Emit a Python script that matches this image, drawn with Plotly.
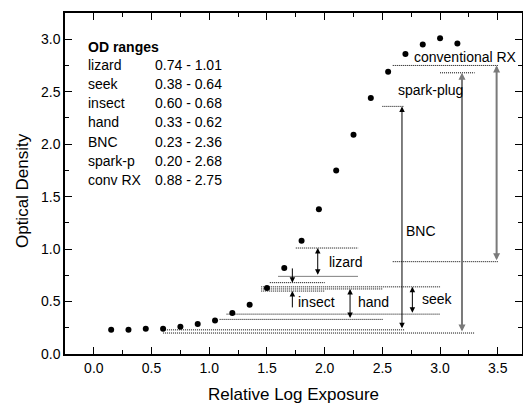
import plotly.graph_objects as go

# ---- data ----
exposure = [0.15, 0.30, 0.45, 0.60, 0.75, 0.90, 1.05, 1.20, 1.35, 1.50, 1.65,
            1.80, 1.95, 2.10, 2.25, 2.40, 2.55, 2.70, 2.85, 3.00, 3.15]
density = [0.23, 0.23, 0.24, 0.24, 0.26, 0.285, 0.32, 0.39, 0.47, 0.63, 0.82,
           1.08, 1.38, 1.75, 2.09, 2.44, 2.69, 2.86, 2.95, 3.01, 2.96]

range_names = ["lizard", "seek", "insect", "hand", "BNC", "spark-p", "conv RX"]
range_low = [0.74, 0.38, 0.60, 0.33, 0.23, 0.20, 0.88]
range_high = [1.01, 0.64, 0.68, 0.62, 2.36, 2.68, 2.75]
range_texts = ["0.74 - 1.01", "0.38 - 0.64", "0.60 - 0.68", "0.33 - 0.62",
               "0.23 - 2.36", "0.20 - 2.68", "0.88 - 2.75"]

x_ticks = [0.0, 0.5, 1.0, 1.5, 2.0, 2.5, 3.0, 3.5]
y_ticks = [0.0, 0.5, 1.0, 1.5, 2.0, 2.5, 3.0]

FONT = "Liberation Sans, Arial, Helvetica, sans-serif"
FS = 14

fig = go.Figure()
fig.add_trace(go.Scatter(x=exposure, y=density, mode="markers",
                         marker=dict(color="black", size=6),
                         showlegend=False, hoverinfo="skip"))

shapes = []
annotations = []

def hline(y, x0, x1):
    shapes.append(dict(type="line", xref="x", yref="y", x0=x0, x1=x1, y0=y, y1=y,
                       line=dict(color="black", width=1, dash="1px,1px")))

def arrow(x, y_head, y_tail, both=True, color="black", width=1, size=1.1):
    annotations.append(dict(x=x, y=y_head, ax=x, ay=y_tail, xref="x", yref="y",
                            axref="x", ayref="y", text="", showarrow=True,
                            arrowhead=2, arrowsize=size, arrowwidth=width,
                            arrowcolor=color, arrowside="end+start" if both else "end",
                            standoff=0, startstandoff=0))

def label(text, x, y):
    annotations.append(dict(x=x, y=y, xref="x", yref="y", text=text, showarrow=False,
                            xanchor="left", yanchor="middle",
                            font=dict(family=FONT, size=FS, color="black")))

idx = {n: i for i, n in enumerate(range_names)}
# horizontal dotted extents (positions)
extents = {
    "lizard": ((1.60, 2.29), (1.75, 2.29)),
    "seek": ((1.15, 3.00), (1.45, 3.00)),
    "insect": ((1.45, 2.00), (1.525, 2.00)),
    "hand": ((1.09, 2.51), (1.45, 2.50)),
    "BNC": ((0.60, 2.69), (2.50, 2.69)),
    "spark-p": ((0.60, 3.30), (3.00, 3.30)),
    "conv RX": ((2.59, 3.50), (2.59, 3.50)),
}
for n, ((lx0, lx1), (hx0, hx1)) in extents.items():
    i = idx[n]
    hline(range_low[i], lx0, lx1)
    hline(range_high[i], hx0, hx1)

i = idx["lizard"]; arrow(1.94, range_high[i], range_low[i])
i = idx["seek"]; arrow(2.76, range_high[i], range_low[i])
i = idx["hand"]; arrow(2.22, range_high[i], range_low[i])
i = idx["BNC"]; arrow(2.67, range_high[i], range_low[i])
i = idx["spark-p"]; arrow(3.19, range_high[i], range_low[i], color="#7a7a7a", width=2, size=0.7)
i = idx["conv RX"]; arrow(3.49, range_high[i], range_low[i], color="#7a7a7a", width=2, size=0.7)
i = idx["insect"]
arrow(1.72, range_high[i], 0.83, both=False)
arrow(1.72, range_low[i], 0.43, both=False)

label("lizard", 2.02, 0.88)
label("insect", 1.75, 0.50)
label("hand", 2.27, 0.50)
label("seek", 2.83, 0.52)
label("BNC", 2.685, 1.17)
label("spark-plug", 2.62, 2.52)
label("conventional RX", 2.76, 2.83)

# OD ranges table
annotations.append(dict(x=-0.069, y=2.925, xref="x", yref="y", text="<b>OD ranges</b>",
                        showarrow=False, xanchor="left", yanchor="middle",
                        font=dict(family=FONT, size=FS, color="black")))
for k, (n, t) in enumerate(zip(range_names, range_texts)):
    yy = 2.755 - k * 0.1825
    annotations.append(dict(x=-0.069, y=yy, xref="x", yref="y", text=n,
                            showarrow=False, xanchor="left", yanchor="middle",
                            font=dict(family=FONT, size=FS, color="black")))
    annotations.append(dict(x=0.509, y=yy, xref="x", yref="y", text=t,
                            showarrow=False, xanchor="left", yanchor="middle",
                            font=dict(family=FONT, size=FS, color="black")))

# axis titles
annotations.append(dict(x=0.5, y=-0.118, xref="paper", yref="paper",
                        text="Relative Log Exposure", showarrow=False,
                        xanchor="center", yanchor="middle",
                        font=dict(family=FONT, size=17, color="black")))
annotations.append(dict(x=-0.094, y=0.478, xref="paper", yref="paper",
                        text="Optical Density", showarrow=False, textangle=-90,
                        xanchor="center", yanchor="middle",
                        font=dict(family=FONT, size=17, color="black")))

axis_common = dict(showline=True, linecolor="black", linewidth=1.5, mirror="ticks",
                   ticks="inside", ticklen=7, tickwidth=1.2, tickcolor="black",
                   showgrid=False, zeroline=False, tickformat=".1f", automargin=False,
                   tickfont=dict(family=FONT, size=FS, color="black"),
                   minor=dict(ticks="inside", ticklen=4, tickwidth=1.2, tickcolor="black",
                              dtick=0.25, showgrid=False))

fig.update_xaxes(range=[-0.25, 3.71], tickvals=x_ticks, **axis_common)
fig.update_yaxes(range=[0, 3.25], tickvals=y_ticks, **axis_common)

fig.update_layout(width=523, height=405, autosize=False,
                  margin=dict(l=65, r=1, t=13, b=51),
                  plot_bgcolor="white", paper_bgcolor="white",
                  shapes=shapes, annotations=annotations,
                  font=dict(family=FONT, color="black"))

fig.write_html("out.html", config={"displayModeBar": False},
               post_script="document.body.style.margin='0';")
